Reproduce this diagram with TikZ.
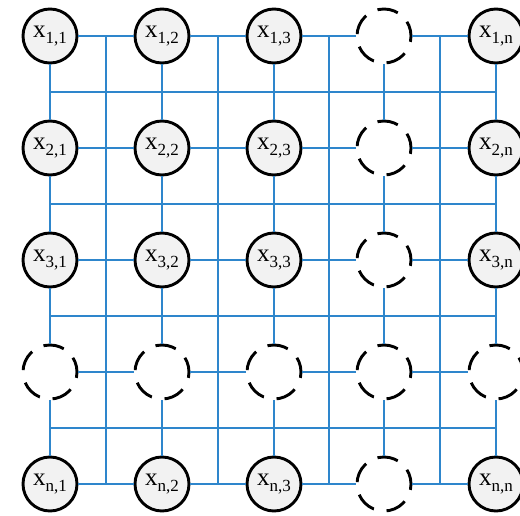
\documentclass[tikz,border=0pt]{standalone}
\usepackage{fontspec}
\setmainfont{Liberation Serif}
\usetikzlibrary{
  calc,       % 取两节点中点
  positioning % 节点相对定位
}
\definecolor{gridblue}{RGB}{46,134,204}
\definecolor{nodegray}{RGB}{242,242,242}
\newcommand{\cellidx}[1]{\raisebox{-0.24em}{\fontsize{17bp}{17bp}\selectfont #1}}
\tikzset{
  var node/.style={
    circle,
    draw=black,
    line width=2.9bp,
    fill=nodegray,
    minimum size=54bp,
    inner sep=0pt,
    font=\fontsize{25bp}{28bp}\selectfont
  },
  gap node/.style={
    circle,
    draw=black,
    line width=2.9bp,
    minimum size=54bp,
    inner sep=0pt,
    dash pattern=on 21bp off 12.9bp,
    dash phase=6bp
  },
  link/.style={
    draw=gridblue,
    line width=2bp
  }
}

\begin{document}
\begin{tikzpicture}[x=1bp, y=-1bp] % 网格：4 行 4 列实心变量节点，第 4 行与第 4 列为虚线省略节点

  \useasboundingbox (0,0) rectangle (520,516); % 固定画布大小

  % 实心变量节点
  \foreach \i/\r/\py in {1/1/36,2/2/148,3/3/260,5/n/484} {
    \foreach \j/\c/\px in {1/1/50,2/2/162,3/3/274,5/n/496} {
      \node[var node] (x\i\j) at (\px,\py) {x\cellidx{\r,\c}}; % 节点 x_{r,c}
    }
  }

  % 虚线省略节点
  \foreach \j/\px in {1/50,2/162,3/274,4/384,5/496}
    \node[gap node] (x4\j) at (\px,372) {}; % 第 4 行
  \foreach \i/\py in {1/36,2/148,3/260,5/484}
    \node[gap node] (x\i4) at (384,\py) {}; % 第 4 列

  % 同一行、同一列相邻节点之间的连线
  \foreach \i in {1,...,5} {
    \foreach \j [evaluate=\j as \k using int(\j+1)] in {1,...,4} {
      \draw[link] (x\i\j) -- (x\i\k); % 横向连线
      \draw[link] (x\j\i) -- (x\k\i); % 纵向连线
    }
  }

  % 行与行之间的横线、列与列之间的竖线
  \foreach \j [evaluate=\j as \k using int(\j+1)] in {1,...,4} {
    \draw[link] ($(x\j1)!.5!(x\k1)$) -- ($(x\j5)!.5!(x\k5)$); % 行间横线
    \draw[link] ($(x1\j)!.5!(x1\k)$) -- ($(x5\j)!.5!(x5\k)$); % 列间竖线
  }

\end{tikzpicture}
\end{document}
